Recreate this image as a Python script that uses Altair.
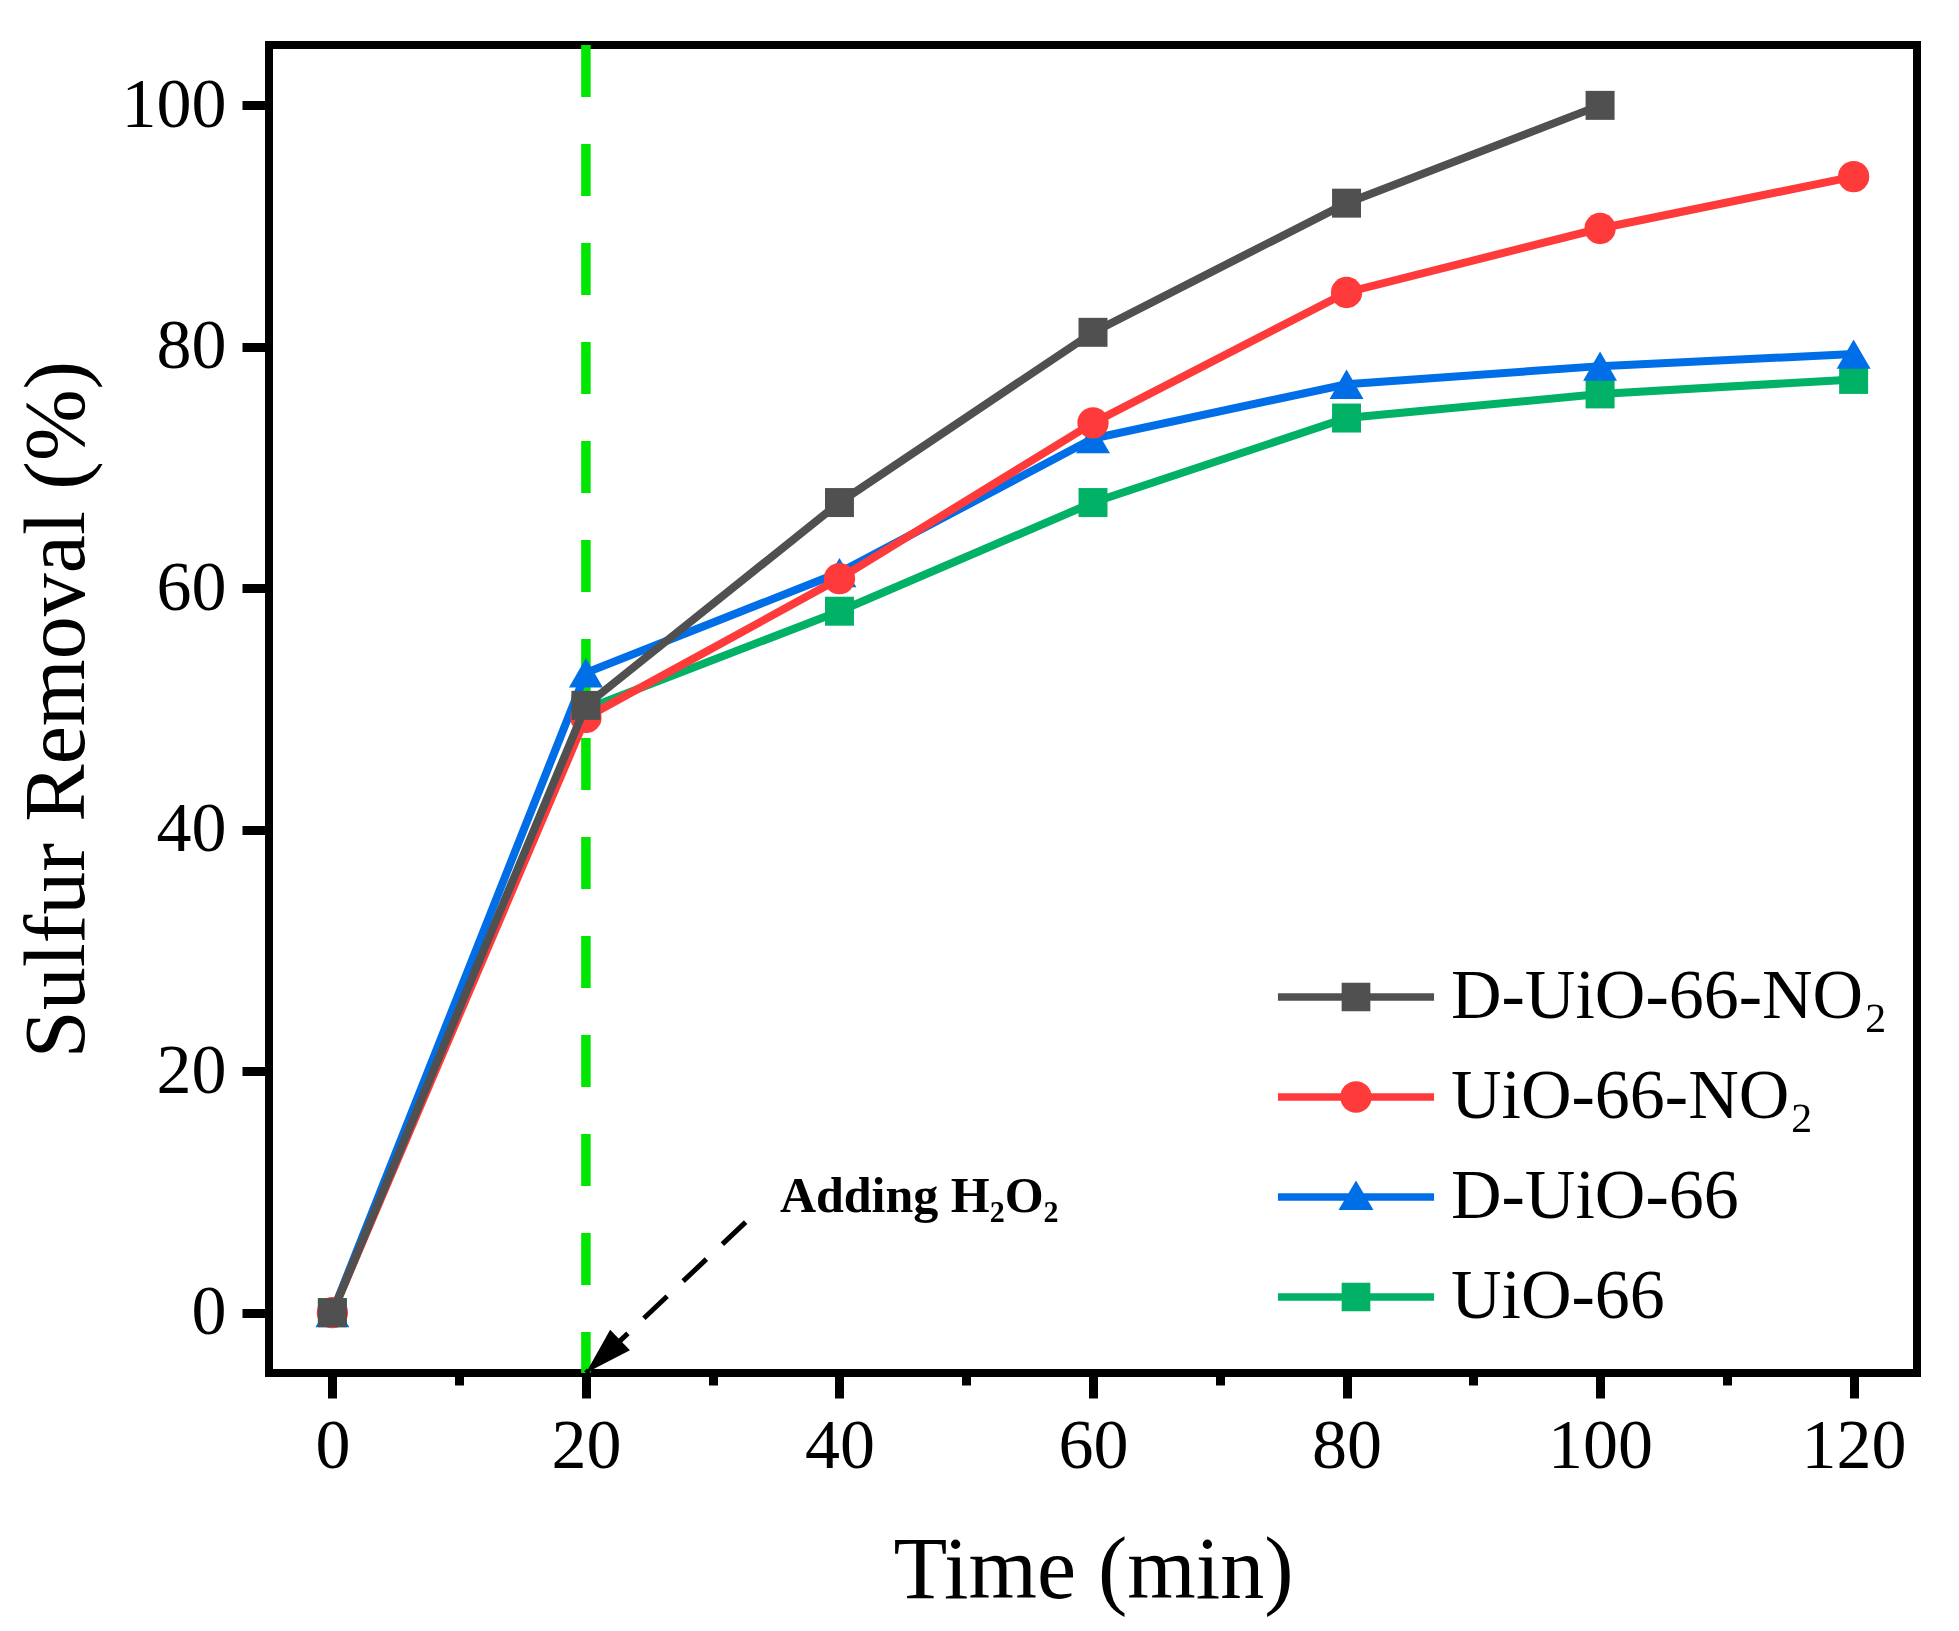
import altair as alt
import pandas as pd

# ---------------- data ----------------
time = [0, 20, 40, 60, 80, 100, 120]
d_uio66_no2 = [0, 50.3, 67.1, 81.2, 91.9, 100.0]
uio66_no2 = [0, 49.3, 60.8, 73.7, 84.5, 89.8, 94.1]
d_uio66 = [0, 53.0, 61.3, 72.4, 76.9, 78.4, 79.4]
uio66 = [0, 50.0, 58.1, 67.1, 74.1, 76.1, 77.3]

series_names = ["D-UiO-66-NO₂", "UiO-66-NO₂", "D-UiO-66", "UiO-66"]
series_values = [d_uio66_no2, uio66_no2, d_uio66, uio66]
series_colors = ["#505050", "#FF3A3A", "#006EE6", "#00B166"]
series_shapes = ["square", "circle", "triangle-up", "square"]
series_sizes = [840, 980, 1150, 840]

x_tick_values = [0, 10, 20, 30, 40, 50, 60, 70, 80, 90, 100, 110, 120]
y_tick_values = [0, 20, 40, 60, 80, 100]

# annotation: H2O2 addition marker and arrow
h2o2_time = [20]
h2o2_span = [105, -5]
arrow_start = [32.6, 7.5]
arrow_tip = [20, -5]
note_text = ["Adding H₂O₂"]
note_pos = [35.3, 8.3]

FONT = "Liberation Serif"

# legend symbols: line segment + marker as custom paths (unit = 35 px)
line_part = "M-2.23,-0.11H2.23V0.11H-2.23Z"
legend_paths = [
    line_part + " M-0.41,-0.41H0.41V0.41H-0.41Z",
    line_part + " M0.45,0A0.45,0.45 0 1,1 -0.45,0A0.45,0.45 0 1,1 0.45,0Z",
    line_part + " M0,-0.47L0.5,0.37L-0.5,0.37Z",
    line_part + " M-0.41,-0.41H0.41V0.41H-0.41Z",
]
arrow_head = "M0,0L0.3,1L-0.3,1Z"

# ---------------- encodings ----------------
x_axis = alt.Axis(
    values=x_tick_values,
    labelExpr="datum.value % 20 === 0 ? datum.label : ''",
    tickSize={"condition": {"test": "datum.value % 20 === 0", "value": 25}, "value": 12},
    tickWidth=9,
    labelFontSize=70,
    labelPadding=14,
    labelFlush=False,
    labelOverlap=False,
    titleFontSize=88,
    titlePadding=46,
    title="Time (min)",
)
y_axis = alt.Axis(
    values=y_tick_values,
    tickSize=27,
    tickWidth=9,
    labelFontSize=70,
    labelPadding=16,
    labelOverlap=False,
    titleFontSize=86,
    titlePadding=20,
    title="Sulfur Removal (%)",
)
x_scale = alt.Scale(domain=[-5, 125], nice=False, zero=False)
y_scale = alt.Scale(domain=[-5, 105], nice=False, zero=False)


def xenc():
    return alt.X("time:Q", scale=x_scale, axis=x_axis)


def yenc():
    return alt.Y("removal:Q", scale=y_scale, axis=y_axis)


frames = []
for name, vals in zip(series_names, series_values):
    frames.append(pd.DataFrame({"time": time[: len(vals)], "removal": vals, "series": name}))
all_df = pd.concat(frames, ignore_index=True)

layers = []

# green dashed vertical line at H2O2 addition
vline_df = pd.DataFrame({"time": h2o2_time, "removal": [h2o2_span[0]], "removal2": [h2o2_span[1]]})
layers.append(
    alt.Chart(vline_df)
    .mark_rule(color="#00E600", strokeWidth=9.5, strokeDash=[52, 47])
    .encode(x=xenc(), y=yenc(), y2=alt.Y2("removal2:Q"))
)

# series, drawn bottom to top: UiO-66, D-UiO-66, UiO-66-NO2, D-UiO-66-NO2
for i in [3, 2, 1, 0]:
    df = frames[i]
    layers.append(
        alt.Chart(df)
        .mark_line(color=series_colors[i], strokeWidth=8)
        .encode(x=xenc(), y=yenc())
    )
    layers.append(
        alt.Chart(df)
        .mark_point(
            shape=series_shapes[i],
            filled=True,
            opacity=1,
            color=series_colors[i],
            size=series_sizes[i],
        )
        .encode(x=xenc(), y=yenc())
    )

# arrow
arrow_df = pd.DataFrame(
    {"time": [arrow_start[0]], "removal": [arrow_start[1]], "time2": [arrow_tip[0]], "removal2": [arrow_tip[1]]}
)
layers.append(
    alt.Chart(arrow_df)
    .mark_rule(color="black", strokeWidth=5, strokeDash=[32, 22])
    .encode(x=xenc(), y=yenc(), x2=alt.X2("time2:Q"), y2=alt.Y2("removal2:Q"))
)
tip_df = pd.DataFrame({"time": [arrow_tip[0]], "removal": [arrow_tip[1]]})
layers.append(
    alt.Chart(tip_df)
    .mark_point(shape=arrow_head, filled=True, color="black", opacity=1, size=9000, angle=226)
    .encode(x=xenc(), y=yenc())
)

# annotation text
note_df = pd.DataFrame({"time": [note_pos[0]], "removal": [note_pos[1]], "label": note_text})
layers.append(
    alt.Chart(note_df)
    .mark_text(font=FONT, fontSize=50, fontWeight="bold", align="left", baseline="alphabetic", color="black")
    .encode(x=xenc(), y=yenc(), text="label:N")
)

# legend layer (invisible marks, visible legend)
leg = alt.Legend(
    title=None,
    orient="none",
    legendX=1052,
    legendY=917,
    padding=0,
    symbolSize=4900,
    symbolStrokeWidth=0,
    symbolOpacity=1,
    labelFont=FONT,
    labelFontSize=70,
    labelColor="black",
    labelOffset=60,
    labelLimit=800,
    rowPadding=30,
)
layers.append(
    alt.Chart(all_df)
    .mark_point(filled=True, opacity=0)
    .encode(
        x=xenc(),
        y=yenc(),
        fill=alt.Fill("series:N", scale=alt.Scale(domain=series_names, range=series_colors), legend=leg),
        shape=alt.Shape("series:N", scale=alt.Scale(domain=series_names, range=legend_paths), legend=leg),
    )
)

chart = (
    alt.layer(*layers)
    .properties(
        width=1648,
        height=1328,
        autosize=alt.AutoSizeParams(type="none"),
        padding={"left": 261, "top": 37, "right": 30, "bottom": 250},
        background="white",
    )
    .configure_view(stroke="black", strokeWidth=8)
    .configure_axis(
        labelFont=FONT,
        titleFont=FONT,
        labelColor="black",
        titleColor="black",
        titleFontWeight="normal",
        tickColor="black",
        domain=False,
        grid=False,
    )
)

chart.save("out.html", embed_options={"renderer": "svg", "actions": False})
